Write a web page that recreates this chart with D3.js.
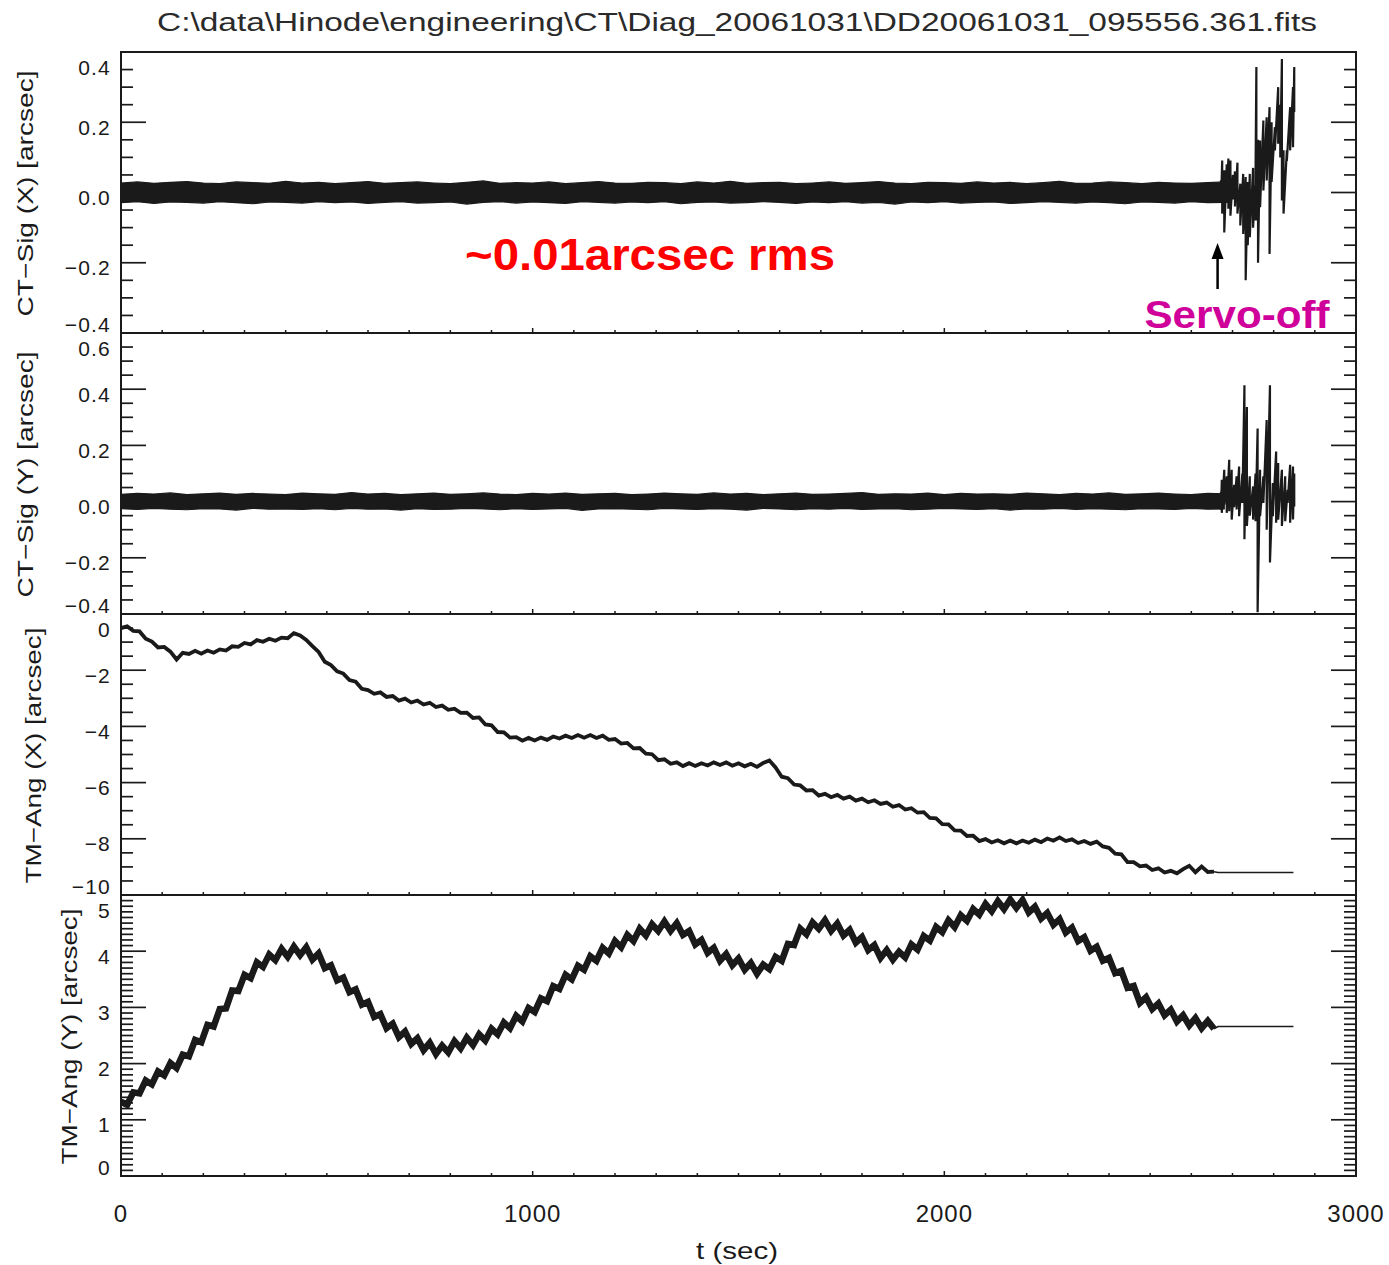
<!DOCTYPE html>
<html><head><meta charset="utf-8">
<script src="https://cdn.jsdelivr.net/npm/d3@7"></script>
<style>body{margin:0;background:#fff}svg{display:block}</style>
</head><body><svg id="c" width="1389" height="1265"></svg>
<script>
// ---------------- DATA ----------------
const titleText = "C:\\data\\Hinode\\engineering\\CT\\Diag_20061031\\DD20061031_095556.361.fits";
const xDomain = [0, 3000];
const xTickValues = [0, 1000, 2000, 3000];
const xTickLabels = ["0", "1000", "2000", "3000"];
const xLabel = "t (sec)";

const panelLabels = ["CT\u2212Sig (X) [arcsec]", "CT\u2212Sig (Y) [arcsec]", "TM\u2212Ang (X) [arcsec]", "TM\u2212Ang (Y) [arcsec]"];
const ctXDomain = [-0.4, 0.4];
const ctXTicks = [-0.4, -0.2, 0.0, 0.2, 0.4];
const ctXTickLabels = ["\u22120.4", "\u22120.2", "0.0", "0.2", "0.4"];
const ctYDomain = [-0.4, 0.6];
const ctYTicks = [-0.4, -0.2, 0.0, 0.2, 0.4, 0.6];
const ctYTickLabels = ["\u22120.4", "\u22120.2", "0.0", "0.2", "0.4", "0.6"];
const tmXDomain = [-10, 0];
const tmXTicks = [-10, -8, -6, -4, -2, 0];
const tmXTickLabels = ["\u221210", "\u22128", "\u22126", "\u22124", "\u22122", "0"];
const tmYDomain = [0, 5];
const tmYTicks = [0, 1, 2, 3, 4, 5];
const tmYTickLabels = ["0", "1", "2", "3", "4", "5"];

// quiet-period envelope of the CT error signals, one sample every 40 s from t = 0
const bandStep = 40;
const ctXBandHi = [0.027,0.030,0.026,0.029,0.031,0.027,0.025,0.030,0.028,0.026,
  0.032,0.027,0.029,0.025,0.028,0.031,0.026,0.028,0.030,0.027,
  0.025,0.029,0.033,0.026,0.028,0.027,0.030,0.025,0.028,0.031,
  0.027,0.026,0.029,0.028,0.025,0.030,0.027,0.032,0.026,0.028,
  0.029,0.025,0.027,0.030,0.026,0.028,0.031,0.027,0.025,0.029,
  0.028,0.026,0.030,0.027,0.029,0.025,0.028,0.032,0.026,0.027,
  0.030,0.028,0.025,0.029,0.027,0.026,0.028,0.030];
const ctXBandLo = [-0.029,-0.026,-0.031,-0.027,-0.028,-0.030,-0.026,-0.029,-0.032,-0.027,
  -0.028,-0.030,-0.026,-0.029,-0.027,-0.031,-0.028,-0.026,-0.030,-0.029,
  -0.027,-0.033,-0.028,-0.026,-0.030,-0.027,-0.029,-0.031,-0.026,-0.028,
  -0.030,-0.027,-0.029,-0.026,-0.032,-0.028,-0.027,-0.030,-0.029,-0.026,
  -0.028,-0.031,-0.027,-0.029,-0.026,-0.030,-0.028,-0.033,-0.027,-0.029,
  -0.026,-0.030,-0.028,-0.027,-0.031,-0.029,-0.026,-0.028,-0.030,-0.027,
  -0.029,-0.032,-0.027,-0.028,-0.030,-0.026,-0.029,-0.028];
const ctYBandHi = [0.026,0.029,0.027,0.031,0.025,0.028,0.030,0.026,0.029,0.027,
  0.025,0.030,0.028,0.026,0.032,0.027,0.029,0.025,0.028,0.030,
  0.026,0.028,0.031,0.027,0.025,0.029,0.027,0.030,0.026,0.028,
  0.029,0.025,0.027,0.030,0.028,0.026,0.031,0.027,0.029,0.025,
  0.028,0.030,0.026,0.027,0.029,0.032,0.026,0.028,0.027,0.030,
  0.025,0.029,0.027,0.028,0.026,0.030,0.028,0.025,0.029,0.027,
  0.031,0.026,0.028,0.030,0.027,0.025,0.029,0.028];
const ctYBandLo = [-0.025,-0.028,-0.024,-0.027,-0.029,-0.025,-0.026,-0.030,-0.024,-0.027,
  -0.026,-0.028,-0.025,-0.029,-0.024,-0.027,-0.026,-0.030,-0.025,-0.028,
  -0.027,-0.024,-0.026,-0.029,-0.025,-0.028,-0.026,-0.024,-0.031,-0.026,
  -0.025,-0.027,-0.029,-0.024,-0.026,-0.028,-0.025,-0.027,-0.030,-0.024,
  -0.026,-0.029,-0.025,-0.027,-0.024,-0.028,-0.026,-0.025,-0.029,-0.027,
  -0.024,-0.026,-0.028,-0.025,-0.030,-0.026,-0.027,-0.024,-0.028,-0.025,
  -0.027,-0.029,-0.025,-0.026,-0.028,-0.024,-0.027,-0.026];

// after servo-off: time, local max, local min
const ctXServoT  = [2672,2675,2680,2686,2690,2695,2701,2706,2712,2719,2726,2732,2737,2742,2750,2755,2758,2762,2767,2775,2783,2790,2795,2803,2811,2816,2820,2824,2832,2840,2847,2850];
const ctXServoHi = [0.035,0.091,0.063,0.080,0.097,0.091,0.050,0.060,0.085,0.025,0.053,0.044,0.030,0.053,0.070,0.020,0.357,0.150,0.148,0.205,0.214,0.243,0.200,0.186,0.300,0.250,0.380,0.120,0.120,0.243,0.300,0.357];
const ctXServoLo = [-0.030,-0.060,-0.114,-0.030,-0.046,-0.066,-0.020,-0.040,-0.060,-0.094,-0.118,-0.250,-0.150,-0.127,-0.100,-0.080,-0.080,-0.200,-0.042,0.006,0.034,-0.175,0.030,0.120,0.139,0.100,-0.023,-0.060,0.090,0.120,0.129,0.229];
const ctYServoT  = [2672,2674,2680,2686,2692,2698,2704,2710,2716,2724,2729,2735,2742,2750,2756,2761,2767,2775,2783,2791,2798,2806,2811,2820,2828,2834,2840,2847,2850];
const ctYServoHi = [0.035,0.078,0.113,0.090,0.149,0.113,0.060,0.090,0.125,0.100,0.414,0.337,0.090,0.054,0.100,0.260,0.113,0.090,0.290,0.414,0.066,0.178,0.137,0.113,0.090,0.042,0.131,0.125,0.100];
const ctYServoLo = [-0.030,-0.040,-0.011,-0.040,-0.034,-0.064,-0.020,-0.028,-0.052,-0.005,-0.134,-0.087,-0.050,-0.064,-0.070,-0.394,-0.052,-0.005,-0.100,-0.217,-0.052,-0.075,-0.064,-0.087,-0.070,-0.005,-0.075,-0.064,-0.017];

// tip-tilt mirror angles, one sample every 15 s from t = 0
const tmStep = 15;
const tmXAng = [-0.50,-0.44,-0.60,-0.62,-0.88,-0.98,-1.19,-1.17,-1.34,-1.62,
  -1.38,-1.42,-1.31,-1.41,-1.30,-1.38,-1.26,-1.30,-1.15,-1.17,
  -1.03,-1.08,-0.93,-0.99,-0.88,-0.95,-0.84,-0.86,-0.68,-0.76,
  -0.92,-1.14,-1.35,-1.70,-1.82,-2.04,-2.12,-2.35,-2.41,-2.66,
  -2.71,-2.84,-2.79,-2.95,-2.92,-3.08,-3.01,-3.15,-3.08,-3.22,
  -3.16,-3.31,-3.26,-3.41,-3.37,-3.52,-3.51,-3.70,-3.68,-3.93,
  -3.96,-4.20,-4.21,-4.40,-4.38,-4.51,-4.41,-4.50,-4.40,-4.48,
  -4.36,-4.43,-4.33,-4.41,-4.31,-4.40,-4.31,-4.41,-4.33,-4.48,
  -4.45,-4.61,-4.59,-4.78,-4.77,-4.97,-4.99,-5.20,-5.17,-5.33,
  -5.28,-5.41,-5.31,-5.41,-5.31,-5.39,-5.28,-5.37,-5.28,-5.40,
  -5.31,-5.42,-5.33,-5.44,-5.30,-5.21,-5.46,-5.79,-5.84,-6.07,
  -6.10,-6.28,-6.27,-6.46,-6.40,-6.52,-6.44,-6.57,-6.50,-6.64,
  -6.57,-6.70,-6.63,-6.76,-6.71,-6.86,-6.80,-6.96,-6.91,-7.07,
  -7.05,-7.26,-7.27,-7.48,-7.49,-7.70,-7.71,-7.90,-7.89,-8.08,
  -8.01,-8.13,-8.05,-8.16,-8.06,-8.16,-8.06,-8.14,-8.03,-8.12,
  -7.99,-8.07,-7.95,-8.08,-8.02,-8.15,-8.08,-8.18,-8.10,-8.27,
  -8.32,-8.53,-8.55,-8.83,-8.83,-8.98,-8.95,-9.11,-9.05,-9.20,
  -9.14,-9.23,-9.08,-8.96,-9.19,-8.99,-9.18,-9.17];
const tmYAng = [1.32,1.27,1.49,1.47,1.70,1.63,1.86,1.79,2.01,1.92,
  2.16,2.13,2.42,2.38,2.69,2.66,2.97,2.98,3.30,3.29,
  3.58,3.52,3.80,3.72,3.94,3.84,4.04,3.90,4.08,3.93,
  4.07,3.85,3.96,3.70,3.75,3.48,3.53,3.27,3.32,3.05,
  3.10,2.83,2.88,2.63,2.71,2.47,2.57,2.35,2.45,2.24,
  2.37,2.17,2.32,2.20,2.40,2.27,2.46,2.33,2.52,2.41,
  2.62,2.52,2.73,2.63,2.85,2.75,2.99,2.92,3.16,3.11,
  3.38,3.33,3.58,3.50,3.74,3.67,3.91,3.83,4.06,3.96,
  4.18,4.07,4.29,4.18,4.40,4.28,4.48,4.36,4.53,4.36,
  4.50,4.29,4.36,4.12,4.20,3.97,4.06,3.83,3.95,3.75,
  3.87,3.67,3.79,3.60,3.76,3.68,3.90,3.83,4.13,4.11,
  4.40,4.30,4.51,4.40,4.55,4.36,4.49,4.28,4.38,4.15,
  4.25,4.02,4.11,3.88,4.02,3.85,3.99,3.89,4.12,4.03,
  4.27,4.19,4.43,4.34,4.55,4.43,4.64,4.54,4.75,4.65,
  4.84,4.71,4.89,4.75,4.92,4.77,4.91,4.69,4.79,4.58,
  4.68,4.47,4.57,4.33,4.42,4.18,4.25,4.01,4.08,3.83,
  3.88,3.61,3.65,3.35,3.38,3.08,3.18,2.97,3.07,2.86,
  2.96,2.75,2.86,2.68,2.81,2.63,2.76,2.62];
// held values after servo-off
const holdTimes = [2665, 2848];
const tmXHold = -9.20;
const tmYHold = 2.66;

const noteRms = "~0.01arcsec rms";
const noteServo = "Servo-off";
const servoArrowT = 2665;

// ---------------- DRAW ----------------
const svg = d3.select("#c");
const L = 121, R = 1356, H = 281;
const tops = [52, 333, 614, 895];
const x = d3.scaleLinear(xDomain, [L, R]);
const FONT = "'Liberation Sans', Arial, sans-serif";
const INK = "#1a1a1a";

svg.append("rect").attr("width", 1389).attr("height", 1265).attr("fill", "#fff");

svg.append("text").attr("x", 737).attr("y", 31).attr("text-anchor", "middle")
  .attr("font-family", FONT).attr("font-size", 25).attr("fill", "#2a2a2a")
  .attr("textLength", 1160).attr("lengthAdjust", "spacingAndGlyphs").text(titleText);

const panels = [
  {domain: ctXDomain, ticks: ctXTicks, labels: ctXTickLabels, minor: 0.05, title: panelLabels[0], tx: 25, tlen: 246},
  {domain: ctYDomain, ticks: ctYTicks, labels: ctYTickLabels, minor: 0.05, title: panelLabels[1], tx: 25, tlen: 246},
  {domain: tmXDomain, ticks: tmXTicks, labels: tmXTickLabels, minor: 0.5, title: panelLabels[2], tx: 33, tlen: 256},
  {domain: tmYDomain, ticks: tmYTicks, labels: tmYTickLabels, minor: 0.1, title: panelLabels[3], tx: 69, tlen: 256}
];

const yScales = [];
panels.forEach((p, k) => {
  const top = tops[k];
  const y = d3.scaleLinear(p.domain, [top + H, top]);
  yScales.push(y);
  const g = svg.append("g");
  svg.append("clipPath").attr("id", "clip" + k).append("rect")
    .attr("x", L).attr("y", top).attr("width", R - L).attr("height", H);
  const nMinor = Math.round((p.domain[1] - p.domain[0]) / p.minor);
  const minors = d3.range(nMinor + 1).map(i => p.domain[0] + i * p.minor);
  const isMajor = v => p.ticks.some(t => Math.abs(t - v) < 1e-6);
  minors.forEach(v => {
    const yy = y(v);
    const len = isMajor(v) ? 25 : 12;
    [[L, L + len], [R, R - len]].forEach(([a, b]) => {
      g.append("line").attr("x1", a).attr("x2", b).attr("y1", yy).attr("y2", yy)
        .attr("stroke", INK).attr("stroke-width", 1.7);
    });
  });
  p.ticks.forEach((v, i) => {
    let yy = y(v) + 5;
    yy = Math.max(top + 15, Math.min(top + H - 9, yy));
    g.append("text").attr("x", 111).attr("y", yy).attr("dy", "0.36em")
      .attr("text-anchor", "end").attr("font-family", FONT).attr("font-size", 21)
      .attr("letter-spacing", 1.2).attr("fill", INK).text(p.labels[i]);
  });
  d3.range(0, 3001, 100).forEach(t => {
    const major = t % 1000 === 0;
    g.append("line").attr("x1", x(t)).attr("x2", x(t)).attr("y1", top + H).attr("y2", top + H - (major ? 5 : 3))
      .attr("stroke", INK).attr("stroke-width", 1.5);
  });
  g.append("rect").attr("x", L).attr("y", top).attr("width", R - L).attr("height", H)
    .attr("fill", "none").attr("stroke", INK).attr("stroke-width", 2);
  const cy = top + H / 2 + 1;
  g.append("text").attr("transform", `translate(${p.tx},${cy}) rotate(-90)`)
    .attr("text-anchor", "middle").attr("dy", "0.36em").attr("font-family", FONT)
    .attr("font-size", 22).attr("fill", INK).attr("textLength", p.tlen)
    .attr("lengthAdjust", "spacingAndGlyphs").text(p.title);
});

xTickValues.forEach((t, i) => {
  svg.append("text").attr("x", x(t)).attr("y", 1222).attr("text-anchor", "middle")
    .attr("font-family", FONT).attr("font-size", 24).attr("letter-spacing", 1).attr("fill", INK).text(xTickLabels[i]);
});
svg.append("text").attr("x", 737).attr("y", 1259).attr("text-anchor", "middle")
  .attr("font-family", FONT).attr("font-size", 24).attr("fill", INK)
  .attr("textLength", 82).attr("lengthAdjust", "spacingAndGlyphs").text(xLabel);

function drawCT(k, hi, lo, sT, sHi, sLo) {
  const y = yScales[k];
  const g = svg.append("g").attr("clip-path", `url(#clip${k})`);
  const band = hi.map((h, i) => ({t: i * bandStep, h, l: lo[i]}));
  g.append("path").datum(band)
    .attr("d", d3.area().x(d => x(d.t)).y0(d => y(d.l)).y1(d => y(d.h)))
    .attr("fill", INK).attr("stroke", INK).attr("stroke-width", 1.2);
  const pts = [];
  sT.forEach((t, i) => { pts.push([t, sHi[i]]); pts.push([t, sLo[i]]); });
  g.append("path").datum(pts)
    .attr("d", d3.line().x(d => x(d[0])).y(d => y(d[1])))
    .attr("fill", "none").attr("stroke", INK).attr("stroke-width", 2.2).attr("stroke-linejoin", "miter");
}
drawCT(0, ctXBandHi, ctXBandLo, ctXServoT, ctXServoHi, ctXServoLo);
drawCT(1, ctYBandHi, ctYBandLo, ctYServoT, ctYServoHi, ctYServoLo);

function drawTM(k, vals, hold, sw) {
  const y = yScales[k];
  const g = svg.append("g").attr("clip-path", `url(#clip${k})`);
  const pts = vals.map((v, i) => [i * tmStep, v]);
  g.append("path").datum(pts)
    .attr("d", d3.line().x(d => x(d[0])).y(d => y(d[1])))
    .attr("fill", "none").attr("stroke", INK).attr("stroke-width", sw).attr("stroke-linejoin", "miter");
  g.append("path").datum([[pts[pts.length - 1][0], vals[vals.length - 1]], [holdTimes[0], hold], [holdTimes[1], hold]])
    .attr("d", d3.line().x(d => x(d[0])).y(d => y(d[1])))
    .attr("fill", "none").attr("stroke", INK).attr("stroke-width", 1.6);
}
drawTM(2, tmXAng, tmXHold, 3.8);
drawTM(3, tmYAng, tmYHold, 6.5);

svg.append("text").attr("x", 650).attr("y", 270).attr("text-anchor", "middle")
  .attr("font-family", FONT).attr("font-weight", "bold")
  .attr("font-size", 44).attr("fill", "#ff0000")
  .attr("textLength", 370).attr("lengthAdjust", "spacingAndGlyphs").text(noteRms);
svg.append("text").attr("x", 1237).attr("y", 328).attr("text-anchor", "middle")
  .attr("font-family", FONT).attr("font-weight", "bold")
  .attr("font-size", 39).attr("fill", "#d0009a")
  .attr("textLength", 185).attr("lengthAdjust", "spacingAndGlyphs").text(noteServo);
const ax = x(servoArrowT) - 0.5;
svg.append("line").attr("x1", ax).attr("x2", ax).attr("y1", 289).attr("y2", 255)
  .attr("stroke", "#000").attr("stroke-width", 2.5);
svg.append("path").attr("d", `M${ax},243 L${ax - 6},259 L${ax + 6},259 Z`).attr("fill", "#000");
</script>
</body></html>
